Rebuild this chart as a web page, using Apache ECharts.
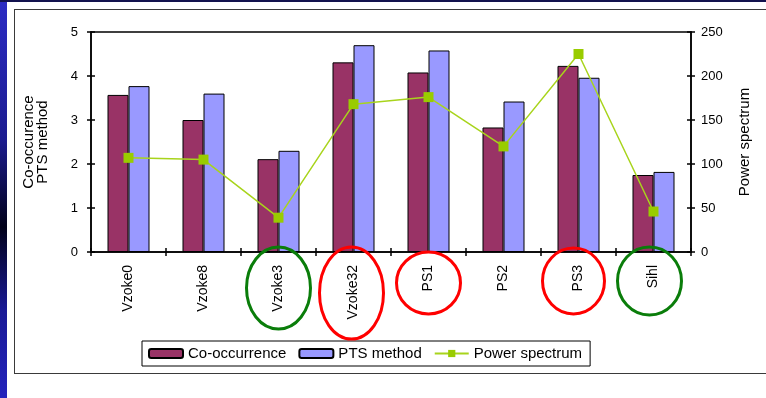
<!DOCTYPE html>
<html>
<head>
<meta charset="utf-8">
<script src="https://cdn.jsdelivr.net/npm/echarts@6/dist/echarts.min.js"></script>
<style>
  html, body { margin: 0; padding: 0; background: #fff; }
  #wrap { position: relative; width: 766px; height: 398px; overflow: hidden; }
  #strip { position: absolute; left: 0; top: 0; width: 7px; height: 398px;
    background: linear-gradient(#2c2cc4 0%, #1c1c90 35%, #02021a 57%, #1a1a96 78%, #2424bc 100%); }
  #topbar { position: absolute; left: 0; top: 0; width: 766px; height: 2px; background: #12124e; }
  #frame { position: absolute; left: 14px; top: 9px; width: 770px; height: 365px;
    border: 1.5px solid #3a3a3a; box-sizing: border-box; }
  #chart { position: absolute; left: 0; top: 0; width: 766px; height: 398px; }
</style>
</head>
<body>
<div id="wrap">
  <div id="strip"></div>
  <div id="topbar"></div>
  <div id="frame"></div>
  <div id="chart"></div>
</div>
<script>
// data
const categories = ['Vzoke0', 'Vzoke8', 'Vzoke3', 'Vzoke32', 'PS1', 'PS2', 'PS3', 'Sihl']
const coOccurrence = [3.57, 3.0, 2.11, 4.31, 4.08, 2.83, 4.23, 1.75]
const ptsMethod = [3.77, 3.6, 2.3, 4.7, 4.58, 3.42, 3.96, 1.82]
const powerSpectrum = [107, 105, 39, 168, 176, 120, 225, 46]

// circled labels (green / red)
const circled = [
  { name: 'Vzoke3', color: '#0a7d0a', dx: 0, cy: 288, rx: 32, ry: 41 },
  { name: 'Vzoke32', color: '#ff0000', dx: -2, cy: 293, rx: 32, ry: 46 },
  { name: 'PS1', color: '#ff0000', dx: 0, cy: 283, rx: 32, ry: 31 },
  { name: 'PS3', color: '#ff0000', dx: -5, cy: 281, rx: 31, ry: 33 },
  { name: 'Sihl', color: '#0a7d0a', dx: -4, cy: 281, rx: 32, ry: 34 },
]

const font = 'Liberation Sans, Arial, sans-serif'
const chart = echarts.init(document.getElementById('chart'))

const lineAxis = { show: true, lineStyle: { color: '#000', width: 1.5 } }

chart.setOption({
  animation: false,
  textStyle: { fontFamily: font, color: '#000' },
  grid: {
    left: 91, right: 75, top: 32, bottom: 146,
    show: true, borderColor: '#000', borderWidth: 1.5,
  },
  legend: {
    left: 142, top: 341,
    padding: [5, 8, 5, 6],
    itemWidth: 34, itemHeight: 9, itemGap: 12,
    borderColor: '#000', borderWidth: 1,
    textStyle: { fontFamily: font, fontSize: 15, color: '#000' },
    data: ['Co-occurrence', 'PTS method', 'Power spectrum'],
  },
  xAxis: [{
    type: 'category',
    data: categories,
    axisLine: lineAxis,
    axisTick: { show: true, length: 4, lineStyle: { color: '#000', width: 1.5 } },
    axisLabel: { rotate: 90, margin: 13, fontSize: 14, color: '#000', fontFamily: font },
  }, {
    // inner half of the cross ticks
    type: 'category',
    data: categories,
    position: 'bottom',
    axisLine: { show: false },
    axisTick: { show: true, inside: true, length: 4, lineStyle: { color: '#000', width: 1.5 } },
    axisLabel: { show: false },
  }],
  yAxis: [{
    type: 'value', min: 0, max: 5, interval: 1,
    name: 'Co-occurence\nPTS method',
    nameLocation: 'middle', nameGap: 41, nameRotate: 90,
    nameTextStyle: { fontSize: 15, lineHeight: 14, color: '#000', fontFamily: font },
    axisLine: lineAxis,
    axisTick: { show: true, length: 4, lineStyle: { color: '#000', width: 1.5 } },
    axisLabel: { margin: 13, fontSize: 13, color: '#000', fontFamily: font },
    splitLine: { show: false },
  }, {
    type: 'value', min: 0, max: 250, interval: 50, position: 'right',
    name: 'Power spectrum',
    nameLocation: 'middle', nameGap: 46, nameRotate: 90,
    nameTextStyle: { fontSize: 15, color: '#000', fontFamily: font },
    axisLine: lineAxis,
    axisTick: { show: true, length: 4, lineStyle: { color: '#000', width: 1.5 } },
    axisLabel: { margin: 10, fontSize: 13, color: '#000', fontFamily: font },
    splitLine: { show: false },
  }, {
    type: 'value', min: 0, max: 5, interval: 1, position: 'left',
    axisLine: { show: false },
    axisTick: { show: true, inside: true, length: 4, lineStyle: { color: '#000', width: 1.5 } },
    axisLabel: { show: false }, splitLine: { show: false },
  }, {
    type: 'value', min: 0, max: 250, interval: 50, position: 'right',
    axisLine: { show: false },
    axisTick: { show: true, inside: true, length: 4, lineStyle: { color: '#000', width: 1.5 } },
    axisLabel: { show: false }, splitLine: { show: false },
  }],
  series: [{
    name: 'Co-occurrence',
    type: 'bar',
    data: coOccurrence,
    barWidth: 21, barGap: '0%',
    itemStyle: { color: '#993366', borderColor: '#000', borderWidth: 1 },
  }, {
    name: 'PTS method',
    type: 'bar',
    data: ptsMethod,
    barWidth: 21, barGap: '0%',
    itemStyle: { color: '#9999ff', borderColor: '#000', borderWidth: 1 },
  }, {
    name: 'Power spectrum',
    type: 'line',
    yAxisIndex: 1,
    data: powerSpectrum,
    symbol: 'rect', symbolSize: 10,
    itemStyle: { color: '#99cc00' },
    lineStyle: { color: '#a8d41c', width: 1.5 },
    z: 5,
  }],
})

// ellipses around the circled labels
const ellipses = circled.map((c) => {
  const x = chart.convertToPixel({ xAxisIndex: 0 }, c.name)
  return {
    type: 'ellipse',
    shape: { cx: x + c.dx, cy: c.cy, rx: c.rx, ry: c.ry },
    style: { fill: null, stroke: c.color, lineWidth: 3 },
    z: 100,
  }
})
chart.setOption({ graphic: ellipses })
</script>
</body>
</html>
